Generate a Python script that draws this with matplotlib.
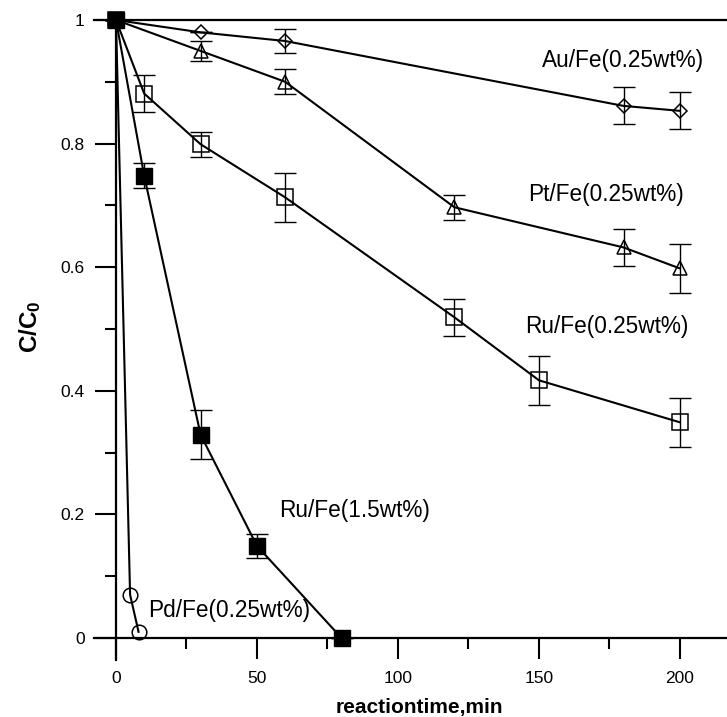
import matplotlib
matplotlib.use("Agg")
import matplotlib.pyplot as plt
from matplotlib.ticker import FixedLocator, FuncFormatter

plt.rcParams["font.family"] = ["Liberation Sans", "DejaVu Sans"]
plt.rcParams["mathtext.default"] = "regular"

# ── data ────────────────────────────────────────────────────────────────────
au_t = [0, 30, 60, 180, 200]
au_c = [1.0, 0.980, 0.966, 0.861, 0.853]
au_err = [0, 0, 0.02, 0.03, 0.03]

pt_t = [0, 30, 60, 120, 180, 200]
pt_c = [1.0, 0.950, 0.900, 0.697, 0.632, 0.598]
pt_err = [0, 0.016, 0.02, 0.02, 0.03, 0.04]

ru_t = [0, 10, 30, 60, 120, 150, 200]
ru_c = [1.0, 0.881, 0.799, 0.713, 0.519, 0.417, 0.349]
ru_err = [0, 0.03, 0.02, 0.04, 0.03, 0.04, 0.04]

ru15_t = [0, 10, 30, 50, 80]
ru15_c = [1.0, 0.748, 0.329, 0.149, 0.0]
ru15_err = [0, 0.02, 0.04, 0.02, 0]

pd_t = [0, 5, 8]
pd_c = [1.0, 0.07, 0.01]

x_major = [0, 50, 100, 150, 200]
x_minor = [25, 75, 125, 175]
y_major = [0, 0.2, 0.4, 0.6, 0.8, 1.0]
y_minor = [0.1, 0.3, 0.5, 0.7, 0.9]

labels = [
    ("Au/Fe(0.25wt%)", 151, 0.934),
    ("Pt/Fe(0.25wt%)", 146, 0.718),
    ("Ru/Fe(0.25wt%)", 145, 0.504),
    ("Ru/Fe(1.5wt%)", 58, 0.207),
    ("Pd/Fe(0.25wt%)", 11.5, 0.045),
]

fig = plt.figure(figsize=(7.27, 7.17), dpi=100)
ax = fig.add_axes([94 / 727, 57 / 717, 633 / 727, 640 / 717])
ax.set_xlim(-7.8, 216.7)
ax.set_ylim(-0.0356, 1.0)

line_kw = dict(color="black", lw=1.5, clip_on=False, zorder=3)
err_kw = dict(fmt="none", ecolor="black", elinewidth=1.0, capsize=7.8,
              capthick=1.0, zorder=2, clip_on=False)

ax.errorbar(au_t, au_c, yerr=au_err, **err_kw)
ax.errorbar(pt_t, pt_c, yerr=pt_err, **err_kw)
ax.errorbar(ru_t, ru_c, yerr=ru_err, **err_kw)
ax.errorbar(ru15_t, ru15_c, yerr=ru15_err, **err_kw)

ax.plot(au_t, au_c, marker="D", ms=7.4, mfc="none", mec="black", mew=1.1, **line_kw)
ax.plot(pt_t, pt_c, marker="^", ms=10.5, mfc="none", mec="black", mew=1.1, **line_kw)
ax.plot(ru_t, ru_c, marker="s", ms=11.0, mfc="none", mec="black", mew=1.1, **line_kw)
ax.plot(pd_t, pd_c, marker="o", ms=10.5, mfc="none", mec="black", mew=1.1,
        markevery=[1, 2], **line_kw)
ax.plot(ru15_t, ru15_c, marker="s", ms=11.5, mfc="black", mec="black", mew=1.0,
        color="black", lw=1.5, clip_on=False, zorder=4)

for txt, x, y in labels:
    ax.text(x, y, txt, fontsize=16.3, ha="left", va="center")

# axis frame: y-axis at x=0, x-axis at y=0, top line at y=1
ax.spines["left"].set_position(("data", 0))
ax.spines["bottom"].set_position(("data", 0))
ax.spines["right"].set_visible(False)
for s in ("left", "bottom", "top"):
    ax.spines[s].set_linewidth(1.6)

ax.xaxis.set_major_locator(FixedLocator(x_major))
ax.xaxis.set_minor_locator(FixedLocator(x_minor))
ax.yaxis.set_major_locator(FixedLocator(y_major))
ax.yaxis.set_minor_locator(FixedLocator(y_minor))
ax.yaxis.set_major_formatter(FuncFormatter(lambda v, p: f"{v:g}"))
ax.tick_params(which="major", direction="out", length=15, width=1.5,
               labelsize=12.5, pad=7.5, top=False, right=False)
ax.tick_params(which="minor", direction="out", length=8, width=1.5,
               top=False, right=False)
ax.tick_params(axis="x", which="major", pad=9)

ax.set_xlabel("reactiontime,min", fontsize=15, fontweight="bold")
ax.xaxis.set_label_coords((419.5 - 94) / 633, -(707 - 660) / 640, transform=ax.transAxes)
ax.xaxis.label.set_va("center")
ax.set_ylabel("C/C$_0$", fontsize=17.5, fontweight="bold")
ax.yaxis.label.set_va("center")
ax.yaxis.set_label_coords(-(94 - 30) / 633, (717 - 57 - 327) / 640, transform=ax.transAxes)

fig.savefig("out.png", dpi=100)
